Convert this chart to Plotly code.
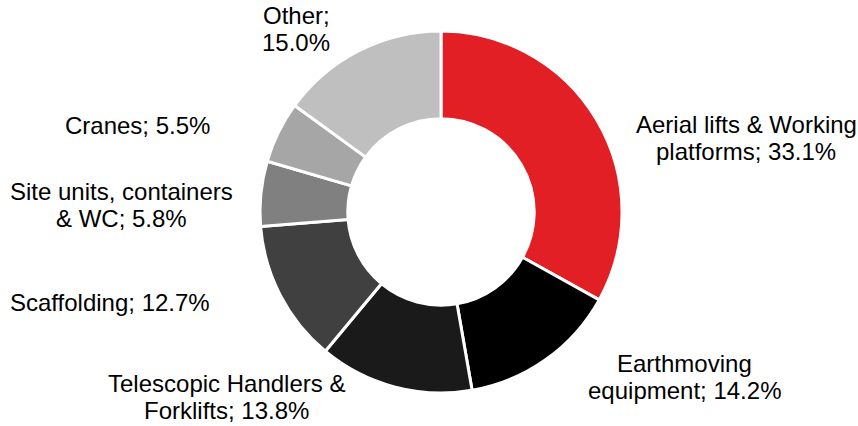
import plotly.graph_objects as go

categories = ["Aerial lifts & Working platforms", "Earthmoving equipment",
              "Telescopic Handlers & Forklifts", "Scaffolding",
              "Site units, containers & WC", "Cranes", "Other"]
values = [33.1, 14.2, 13.8, 12.7, 5.8, 5.5, 15.0]
# label wording split into display lines; the value is appended to the last line
label_lines = [["Aerial lifts & Working", "platforms; "], ["Earthmoving", "equipment; "],
               ["Telescopic Handlers &", "Forklifts; "], ["Scaffolding; "],
               ["Site units, containers", "& WC; "], ["Cranes; "], ["Other;", ""]]
colors = ["#E31F26", "#000000", "#1A1A1A", "#404040", "#808080", "#A6A6A6", "#BFBFBF"]

# label centres in pixels (style/layout)
label_pos = [(746, 138), (684, 377), (227, 397), (110, 302), (122, 205), (137, 125), (296, 29)]
line_gap = 27

W, H = 858, 426
cx, cy, r = 441, 212, 181

fig = go.Figure(go.Pie(
    labels=categories, values=values, sort=False, direction="clockwise",
    rotation=0, hole=0.515, textinfo="none", hoverinfo="label+percent",
    marker=dict(colors=colors, line=dict(color="white", width=3)),
    domain=dict(x=[(cx - r) / W, (cx + r) / W], y=[1 - (cy + r) / H, 1 - (cy - r) / H]),
    showlegend=False,
))

for lines, v, (px, py) in zip(label_lines, values, label_pos):
    lines = lines[:-1] + [lines[-1] + f"{v:.1f}%"]
    n = len(lines)
    for i, ln in enumerate(lines):
        ly = py + (i - (n - 1) / 2) * line_gap
        fig.add_annotation(text=ln, x=px / W, y=1 - ly / H, xref="paper", yref="paper",
                           xanchor="center", yanchor="middle", showarrow=False, align="center",
                           font=dict(family="Arial", size=24, color="#000000"))

fig.update_layout(width=W, height=H, margin=dict(l=0, r=0, t=0, b=0),
                  paper_bgcolor="white", plot_bgcolor="white")
fig.write_html("out.html")
